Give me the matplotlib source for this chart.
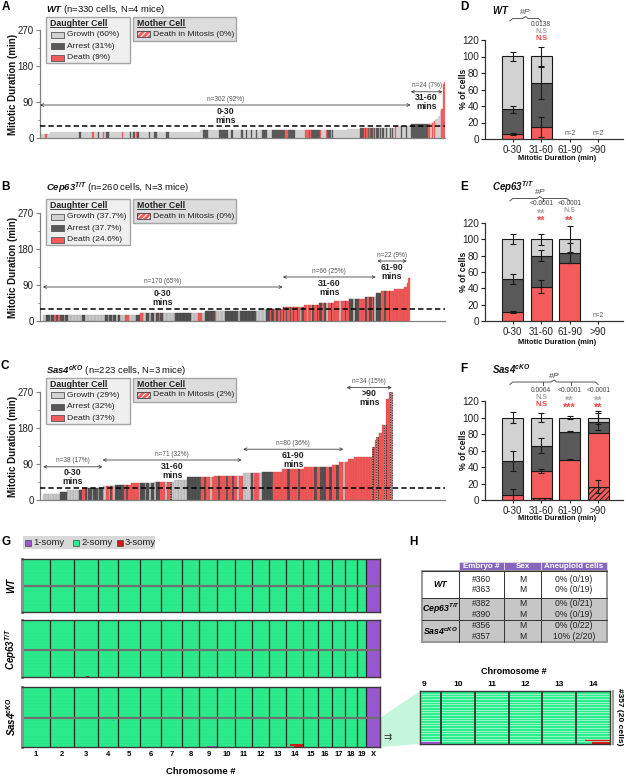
import numpy as np
import matplotlib
matplotlib.use('Agg')
import matplotlib.pyplot as plt
from matplotlib.patches import Rectangle, Polygon
from matplotlib.lines import Line2D
from matplotlib.colors import ListedColormap, BoundaryNorm
from matplotlib.ticker import MultipleLocator

nan = np.nan

# ---------------- waterfall data (A-C) ----------------
# (mitotic duration in min, run-length coded fates left to right)
# G = growth, A = arrest, D = death (daughter), M = death in mitosis (mother)
wt_runs = [
    (10, 'G4 D2 G2'),
    (15, 'G24 A1 G9 D2 G3 A1 G3 D1 G2 A2 G11 D1 G5 A1 G2 A1 G1 D1 A2 G8 A1 G3 A2 G8 A2 G25'),
    (20, 'G3 A4 G9 A7 G3 A1 G7 A1 G3 A1 G3 A1 G3 A1 G4 A4 G4 A11 D2 A6 G8 D3 A1 D1 A7 D1 G4 D1 A3 G1 A1 G11'),
    (24, 'G11'),
    (26, 'A3 D1 A1 D1 A1 D1 A2 D1 A1 G1 A2 G1 A1 G1 A1 G2 A1 G2 A1 G1 A1 G1'),
    (30, 'D1 G4 A1 G3 A1 G3'),
    (35, 'A14 D1'), (36, 'D1'), (37, 'G1'), (38, 'D1'), (40, 'G1'), (42, 'D1'),
    (45, 'G1'), (48, 'G1'), (52, 'G1'), (56, 'G1'),
    (68, 'G1'), (72, 'D1'), (135, 'D1'), (140, 'D1'),
]
cep_runs = [
    (15, 'G2 A3 G1 A2 D1 A2 D1 A3 G1 A2 G2 G8 A2 G14 A2 G1 A2 G1 A2 G1 A2 G3 D3 G5 A3'),
    (20, 'D2 G2 A2 G2 A2 G1 A2 D1 A2 G9 A11 G5 D3 G2'),
    (25, 'A7 D1 G6 A9 G2 A11 G2'),
    (30, 'G5 A3 D1 A2 D1 A2 D1 A1 D1'),
    (35, 'A1 D1 A1 D2 A1 D1 A1 D2 A1 D1 G1 D1 A1'),
    (40, 'D2 G1 D2 G1 A1 D2 A1 D1'),
    (45, 'A2 D1 A2 G1 D2 A1 D1'),
    (50, 'D4 G1 D3 A1 D2'),
    (55, 'A3 G1 A3 D4'),
    (60, 'A2 D1 A2 D1 A1 G1'),
    (70, 'A4'), (75, 'D2 A1 D2 A1 D3'), (80, 'D7'), (85, 'D2'),
    (95, 'D1'), (107, 'D1'),
]
sas_runs = [
    (15, 'G11'), (20, 'A4'), (25, 'G8 A2'), (30, 'D2 A1 G1 A2 G1 A3 G1 A2'),
    (35, 'G2 D2 G1 A1 D1 G1'), (37, 'A6 D1 A1 D2'), (42, 'D5 G1 A3 G1 A2 G1 A2'),
    (46, 'G1 A3 D3 G1 D2 M1 G2'), (50, 'G8'), (57, 'A9 D2 A1 D3 G1 D1'),
    (61, 'D3 A1 D4 A1 D3 A1 D2 G1 D3'), (67, 'G5 A1 G1 D3 G2'), (71, 'A7 D6'),
    (77, 'D3 A2 D5 A1 D3'), (82, 'D6 A2 D2 A4 D2 A2'), (87, 'D2 A2'),
    (96, 'D3 G1 D2'), (102, 'D4'), (107, 'D11'), (133, 'M1 D1'), (150, 'D1'),
    (157, 'M1 D1'), (167, 'D2'), (188, 'D1 M1'), (252, 'D2'), (270, 'D1 M1'),
]

wt_title = r'$\mathbf{WT}$ (n=330 cells, N=4 mice)'
cep_title = r'$\mathbf{Cep63^{T/T}}$ (n=260 cells, N=3 mice)'
sas_title = r'$\mathbf{Sas4^{cKO}}$ (n=223 cells, N=3 mice)'
wt_legend = ['Growth (60%)', 'Arrest (31%)', 'Death (9%)']
cep_legend = ['Growth (37.7%)', 'Arrest (37.7%)', 'Death (24.6%)']
sas_legend = ['Growth (29%)', 'Arrest (32%)', 'Death (37%)']
wt_mother = 'Death in Mitosis (0%)'
cep_mother = 'Death in Mitosis (0%)'
sas_mother = 'Death in Mitosis (2%)'

# duration groups: (first bar, last bar, arrow level in min, count label, group)
wt_groups = [(0, 302, 83, 'n=302 (92%)', '0-30'), (302, 328, 116, 'n=24 (7%)', '31-60')]
cep_groups = [(0, 170, 85, 'n=170 (65%)', '0-30'), (170, 236, 110, 'n=66 (25%)', '31-60'),
              (237, 258, 150, 'n=22 (9%)', '61-90')]
sas_groups = [(0, 38, 83, 'n=38 (17%)', '0-30'), (38, 127, 100, 'n=71 (32%)', '31-60'),
              (128, 192, 127, 'n=80 (36%)', '61-90'), (194, 223, 281, 'n=34 (15%)', '>90')]

# ---------------- stacked bars (D-F), % of cells ----------------
cats = ['0-30', '31-60', '61-90', '>90']
wt_mito = [0, 0, nan, nan]
wt_death = [6, 15, nan, nan]
wt_arrest = [30, 53, nan, nan]
wt_growth = [64, 32, nan, nan]
wt_err = [[0, 0, 0, 0], [1.5, 12, 0, 0], [4, 19, 0, 0], [5, 12, 0, 0]]
wt_p = ['', '0.0138', '', '']
wt_sig_g = ['', 'N.S', '', '']
wt_sig_d = ['', 'N.S', '', '']
wt_n = ['', '', 'n=2', 'n=2']

cep_mito = [0, 0, 0, nan]
cep_death = [11, 42, 71, nan]
cep_arrest = [40, 38, 12, nan]
cep_growth = [49, 20, 17, nan]
cep_err = [[0, 0, 0, 0], [1, 8, 0, 0], [6, 7, 12, 0], [6, 7, 16, 0]]
cep_p = ['', '<0.0001', '<0.0001', '']
cep_sig_g = ['', '**', 'N.S', '']
cep_sig_d = ['', '**', '**', '']
cep_n = ['', '', '', 'n=2']

sas_mito = [0, 2, 0, 16]
sas_death = [6, 33, 49, 65]
sas_arrest = [41, 31, 34, 14]
sas_growth = [53, 34, 17, 5]
sas_err = [[0, 0, 0, 8], [7, 2, 1, 0], [12, 9, 1, 10], [7, 5, 2, 8]]
sas_p = ['', '0.0064', '<0.0001', '<0.0001']
sas_sig_g = ['', 'N.S', '**', '**']
sas_sig_d = ['', 'N.S', '***', '**']
sas_n = ['', '', '', '']

# ---------------- karyotypes (G, H) ----------------
chrom_names = [str(i) for i in range(1, 20)] + ['X']
chrom_len = [193, 173, 163, 147, 152, 149, 143, 123, 126, 126, 119, 117, 117, 123, 105, 94, 93, 86, 61, 98]
embryo_ids = ['#360', '#363', '#382', '#390', '#356', '#357']
embryo_cells = [19, 19, 21, 19, 22, 20]
embryo_sex = ['M', 'M', 'M', 'M', 'M', 'M']
aneuploid = ['0% (0/19)', '0% (0/19)', '0% (0/21)', '0% (0/19)', '0% (0/22)', '10% (2/20)']
geno_labels = ['WT', r'Cep63$^{\mathbf{T/T}}$', r'Sas4$^{\mathbf{cKO}}$']
# (embryo, cell, chromosome, start fraction, end fraction, copy number)
cnv_events = [
    ('#390', 19, '3', 0.50, 0.62, 3),
    ('#390', 19, '9', 0.45, 0.55, 1),
    ('#357', 2, '4', 0.72, 0.80, 1),
    ('#357', 19, '14', 0.25, 1.00, 3),
    ('#357', 20, '14', 0.47, 1.00, 3),
    ('#357', 20, '9', 0.40, 1.00, 1),
]
detail_chroms = ['9', '10', '11', '12', '13', '14']

# ---------------- style ----------------
plt.rcParams['font.family'] = ['Liberation Sans', 'DejaVu Sans']
plt.rcParams['mathtext.fontset'] = 'custom'
plt.rcParams['mathtext.rm'] = 'Liberation Sans'
plt.rcParams['mathtext.it'] = 'Liberation Sans:italic'
plt.rcParams['mathtext.bf'] = 'Liberation Sans:bold:italic'
plt.rcParams['hatch.linewidth'] = 0.8

fate_col = {'G': '#D2D2D2', 'A': '#595959', 'D': '#F45C5C', 'M': '#F45C5C'}
edge_col = {'G': '#A3A3A3', 'A': '#3A3A3A', 'D': '#DA4A4A'}

W, H = 626, 776
fig = plt.figure(figsize=(W / 100, H / 100), dpi=100)
renderer = fig.canvas.get_renderer()


def fx(x):
    return x / W


def fy(y):
    return 1 - y / H


def px_rect(x0, y0, x1, y1):
    return [x0 / W, 1 - y1 / H, (x1 - x0) / W, (y1 - y0) / H]


def frect(x0, y0, x1, y1, **kw):
    r = Rectangle((fx(x0), fy(y1)), (x1 - x0) / W, (y1 - y0) / H, transform=fig.transFigure, **kw)
    fig.add_artist(r)
    return r


def underline(t):
    bb = t.get_window_extent(renderer=renderer)
    y = (bb.y0 + 1.2) / H
    fig.add_artist(Line2D([bb.x0 / W, bb.x1 / W], [y, y], transform=fig.transFigure, color='#222', lw=0.6))


def expand(runs):
    mins, fates = [], []
    for m, codes in runs:
        for tok in codes.split():
            k = int(tok[1:])
            fates += [tok[0]] * k
            mins += [m] * k
    return np.array(mins, float), np.array(fates)


def waterfall(box, runs, xlim, groups, edges):
    ax = fig.add_axes(px_rect(*box))
    mins, fates = expand(runs)
    x = np.arange(len(mins))
    for code in 'GAD':
        s = fates == code
        ec = edge_col[code] if edges else fate_col[code]
        ax.bar(x[s], mins[s], width=1, align='edge', color=fate_col[code], edgecolor=ec, linewidth=0.25)
    s = fates == 'M'
    if s.any():
        ax.bar(x[s], mins[s], width=1, align='edge', color=fate_col['M'], edgecolor='#1a1a1a',
               linewidth=0.6, linestyle=(0, (1, 1)))
    ax.axhline(30, color='black', lw=1.1, linestyle=(0, (3.5, 2)), zorder=3)
    ax.set_xlim(*xlim)
    ax.set_ylim(0, 270)
    ax.set_yticks([0, 90, 180, 270])
    ax.yaxis.set_minor_locator(MultipleLocator(45))
    ax.set_xticks([])
    for sp in ['top', 'right']:
        ax.spines[sp].set_visible(False)
    for sp in ['left', 'bottom']:
        ax.spines[sp].set_color('#808080')
        ax.spines[sp].set_linewidth(0.9)
    ax.tick_params(axis='y', labelsize=7, colors='#808080', labelcolor='#222', length=3, width=0.8, pad=1.5)
    ax.tick_params(axis='y', which='minor', length=1.6, colors='#808080')
    for x0, x1, y, nlab, grp in groups:
        ax.annotate('', xy=(x1, y), xytext=(x0, y), annotation_clip=False,
                    arrowprops=dict(arrowstyle='<->', color='#444', lw=0.6, shrinkA=0, shrinkB=0,
                                    mutation_scale=5))
        mid = (x0 + x1) / 2
        ax.text(mid, y + 6, nlab, fontsize=4.7, color='#555', ha='center', va='bottom', clip_on=False)
        ax.text(mid, y - 4, grp + '\nmins', fontsize=6.3, weight='bold', color='#222', ha='center',
                va='top', linespacing=1.0, clip_on=False)
    return ax


def cell_legend(ytop, labels, mother_label):
    frect(46, ytop, 130, ytop + 46, fc='#EFEFEF', ec='#A5A5A5', lw=1)
    t = fig.text(fx(50), fy(ytop + 6.5), 'Daughter Cell', fontsize=6.3, weight='bold', va='center', color='#222')
    underline(t)
    for i, (lab, code) in enumerate(zip(labels, 'GAD')):
        yc = ytop + 17.5 + i * 11.5
        frect(51, yc - 3, 64, yc + 3, fc=fate_col[code], ec='#555', lw=0.6)
        fig.text(fx(67), fy(yc), lab, fontsize=6.1, va='center', color='#222')
    frect(133, ytop, 236, ytop + 24, fc='#DCDCDC', ec='#A5A5A5', lw=1)
    t = fig.text(fx(137), fy(ytop + 6.5), 'Mother Cell', fontsize=6.3, weight='bold', va='center', color='#222')
    underline(t)
    yc = ytop + 17
    frect(137, yc - 3, 150, yc + 3, fc=fate_col['D'], ec='white', lw=0, hatch='//////')
    frect(137, yc - 3, 150, yc + 3, fill=False, ec='#444', lw=0.6)
    fig.text(fx(153), fy(yc), mother_label, fontsize=6.1, va='center', color='#222')


def stacked(box, mito, death, arrest, growth, errs, pvals, sig_g, sig_d, nlabs, base, yb):
    ax = fig.add_axes(px_rect(*box))
    x = np.arange(len(cats))
    segs = [np.array(v, float) for v in (mito, death, arrest, growth)]
    ok = ~np.isnan(segs[3])
    bottom = np.zeros(len(cats))
    tops = []
    cols = [fate_col['D'], fate_col['D'], fate_col['A'], fate_col['G']]
    wbar = 0.74
    for k, seg in enumerate(segs):
        h = np.nan_to_num(seg)
        if k == 0:
            sel = ok & (h > 0)
            ax.bar(x[sel], h[sel], wbar, bottom=bottom[sel], color=cols[0], edgecolor='#3a2020',
                   hatch='//////', lw=0, zorder=2)
            ax.bar(x[sel], h[sel], wbar, bottom=bottom[sel], fill=False, edgecolor='#1a1a1a', lw=0.8, zorder=2)
        else:
            ax.bar(x[ok], h[ok], wbar, bottom=bottom[ok], color=cols[k], edgecolor='#1a1a1a', lw=0.8, zorder=2)
        bottom = bottom + h
        tops.append(bottom.copy())
    for top, err in zip(tops, errs):
        e = np.array(err, float)
        s = ok & (e > 0)
        ax.errorbar(x[s], top[s], yerr=e[s], fmt='none', ecolor='#1a1a1a', elinewidth=0.8,
                    capsize=2.5, capthick=0.8, zorder=3)
    targets = []
    for i in range(len(cats)):
        if pvals[i]:
            targets.append(i)
        ax.text(i, base, pvals[i], fontsize=4.8, color='#444', ha='center', va='center', clip_on=False)
        for txt, yy, col in ((sig_g[i], base - 9, '#A8A8A8'), (sig_d[i], base - 17, '#F04545')):
            star = '*' in txt
            ax.text(i, yy - (4 if star else 0), txt, fontsize=7.8 if star else 5.2, color=col,
                    weight='bold', ha='center', va='center', clip_on=False)
        ax.text(i, 7, nlabs[i], fontsize=4.8, color='#555', ha='center', va='center')
    # bracket over the compared groups
    xs, xe = -0.1, max(targets)
    xm = (xs + xe) / 2
    bx = [xs, xs + 0.1, xm - 0.1, xm, xm + 0.1, xe - 0.1, xe]
    by = [yb - 3, yb, yb, yb + 2.5, yb, yb, yb - 3]
    ax.plot(bx, by, color='#555', lw=0.7, clip_on=False)
    for t in targets[:-1]:
        ax.plot([t + 0.05, t + 0.05], [yb, yb - 3], color='#555', lw=0.7, clip_on=False)
    ax.text(xm, yb + 8, r'#$\it{P}$', fontsize=6, color='#444', ha='center', va='center', clip_on=False)
    ax.set_xlim(-0.97, 3.87)
    ax.set_ylim(0, 120)
    ax.set_yticks(np.arange(0, 121, 20))
    ax.set_xticks(x, cats)
    for sp in ['top', 'right']:
        ax.spines[sp].set_visible(False)
    for sp in ['left', 'bottom']:
        ax.spines[sp].set_linewidth(0.9)
        ax.spines[sp].set_color('#333')
    ax.tick_params(axis='y', labelsize=7.2, length=3, width=0.8, pad=1.2, colors='#222')
    ax.tick_params(axis='x', labelsize=7, length=2.5, width=0.8, pad=2, colors='#222')
    return ax


# ---------------- panels A-C ----------------
waterfall((40, 30, 445, 138.3), wt_runs, (0, 330), wt_groups, False)
waterfall((40, 213, 445, 321), cep_runs, (-2, 285), cep_groups, True)
waterfall((40, 392, 445, 500), sas_runs, (-2, 257), sas_groups, True)
cell_legend(17, wt_legend, wt_mother)
cell_legend(199, cep_legend, cep_mother)
cell_legend(378, sas_legend, sas_mother)
for yc, title in ((9, wt_title), (188, cep_title), (371, sas_title)):
    fig.text(fx(46), fy(yc), title, fontsize=6.8, va='center', color='#111')
for yc in (84, 267, 446):
    fig.text(fx(13), fy(yc), 'Mitotic Duration (min)', fontsize=7, weight='bold', rotation=90,
             ha='center', va='center', color='#111')

# ---------------- panels D-F ----------------
stacked((485, 40, 623, 139), wt_mito, wt_death, wt_arrest, wt_growth, wt_err,
        wt_p, wt_sig_g, wt_sig_d, wt_n, 139, 146)
stacked((485, 223, 623, 321), cep_mito, cep_death, cep_arrest, cep_growth, cep_err,
        cep_p, cep_sig_g, cep_sig_d, cep_n, 144, 150)
stacked((485, 401, 623, 500), sas_mito, sas_death, sas_arrest, sas_growth, sas_err,
        sas_p, sas_sig_g, sas_sig_d, sas_n, 133, 143)
for yc, lab in ((10, r'$\mathbf{WT}$'), (187, r'$\mathbf{Cep63^{T/T}}$'), (369, r'$\mathbf{Sas4^{cKO}}$')):
    fig.text(fx(492), fy(yc), lab, fontsize=7, va='center', color='#111')
for yc, ylab in ((89, 159), (272, 342), (450, 518)):
    fig.text(fx(464), fy(yc), '% of cells', fontsize=6.2, weight='bold', rotation=90,
             ha='center', va='center', color='#111')
    fig.text(fx(557), fy(ylab), 'Mitotic Duration (min)', fontsize=5.4, weight='bold',
             ha='center', va='center', color='#111')

# panel letters
for lab, x, y in (('A', 6, 7), ('B', 5, 187), ('C', 5, 366), ('D', 464, 7), ('E', 464, 187),
                  ('F', 464, 369), ('G', 6, 542), ('H', 413, 542)):
    fig.text(fx(x), fy(y), lab, fontsize=8.5, weight='bold', ha='center', va='center')

# ---------------- panel G ----------------
NB = 40
cn_cmap = ListedColormap(['#A251D6', '#2CEE8E', '#D81414'])
cn_norm = BoundaryNorm([0.5, 1.5, 2.5, 3.5], 3)


def copy_matrix(emb, chroms):
    n = embryo_cells[embryo_ids.index(emb)]
    mat = np.full((n, len(chroms) * NB), 2.0)
    centers = (np.arange(NB) + 0.5) / NB
    for j, c in enumerate(chroms):
        if c == 'X':
            mat[:, j * NB:(j + 1) * NB] = 1
    for e, cell, c, a, b, cn in cnv_events:
        if e == emb and c in chroms:
            j = chroms.index(c)
            row = mat[cell - 1, j * NB:(j + 1) * NB]
            row[(centers >= a) & (centers <= b)] = cn
    return mat


def chrom_edges(widths):
    edges = [0.0]
    for w in widths:
        edges += list(edges[-1] + np.linspace(0, w, NB + 1)[1:])
    return np.array(edges)


gx = chrom_edges(chrom_len)
bounds = np.concatenate([[0], np.cumsum(chrom_len)])
blocks = [(559, 612), (620, 677), (687, 747)]
for g, (y0, y1) in enumerate(blocks):
    ax = fig.add_axes(px_rect(22, y0, 380, y1))
    mat = np.vstack([copy_matrix(embryo_ids[2 * g], chrom_names), copy_matrix(embryo_ids[2 * g + 1], chrom_names)])
    ny = mat.shape[0]
    ax.pcolormesh(gx, np.arange(ny + 1), mat, cmap=cn_cmap, norm=cn_norm)
    ax.hlines(np.arange(1, ny), 0, bounds[-1], color='#1FB56B', lw=0.15, alpha=0.5)
    ax.vlines(bounds[1:-1], 0, ny, color='#262626', lw=0.9)
    ax.axhline(embryo_cells[2 * g], color='#707070', lw=1.6)
    ax.set_xlim(0, bounds[-1])
    ax.set_ylim(ny, 0)
    ax.set_yticks([])
    for sp in ax.spines.values():
        sp.set_color('#3a3a3a')
        sp.set_linewidth(1)
    ax.spines['left'].set_color('#8C8C8C')
    ax.spines['left'].set_linewidth(2.2)
    if g == 2:
        ax.set_xticks((bounds[:-1] + bounds[1:]) / 2, chrom_names)
        ax.tick_params(axis='x', length=0, pad=3, labelsize=5.5)
        for tl in ax.get_xticklabels():
            tl.set_fontweight('bold')
    else:
        ax.set_xticks([])
    fig.text(fx(11), fy((y0 + y1) / 2), geno_labels[g], fontsize=7, weight='bold', style='italic',
             rotation=90, ha='center', va='center')
fig.text(fx(201), fy(771), 'Chromosome #', fontsize=6.8, weight='bold', ha='center', va='center')

# G legend
frect(23, 536, 155, 549, fc='#D8D8D8', ec='none')
for col, x, lab in ((cn_cmap(0), 25, '1-somy'), (cn_cmap(1), 73, '2-somy'), (cn_cmap(2), 117, '3-somy')):
    frect(x, 539.5, x + 6, 545.5, fc=col, ec='#444', lw=0.5)
    fig.text(fx(x + 8), fy(542.5), lab, fontsize=6.8, va='center', color='#222')

# ---------------- panel H: table ----------------
tax = fig.add_axes(px_rect(421, 560, 609, 644))
tax.set_xlim(421, 609)
tax.set_ylim(644, 560)
tax.axis('off')
cols_x = [422, 459, 504, 541, 607]
rows_y = [562, 571, 598, 620, 642]
for c, head in enumerate(['Embryo #', 'Sex', 'Aneuploid cells'], start=1):
    tax.add_patch(Rectangle((cols_x[c], rows_y[0]), cols_x[c + 1] - cols_x[c], rows_y[1] - rows_y[0],
                            fc='#8565BE', ec='#E0E0E0', lw=0.6))
    tax.text((cols_x[c] + cols_x[c + 1]) / 2, (rows_y[0] + rows_y[1]) / 2 + 0.3, head, fontsize=5.8,
             weight='bold', color='white', ha='center', va='center')
for r in range(3):
    ya, yb = rows_y[r + 1], rows_y[r + 2]
    tax.add_patch(Rectangle((cols_x[0], ya), cols_x[-1] - cols_x[0], yb - ya,
                            fc='white' if r == 0 else '#C6C6C6', ec='none'))
    ym = (ya + yb) / 2
    tax.text((cols_x[0] + cols_x[1]) / 2, ym, geno_labels[r], fontsize=6.3, weight='bold', style='italic',
             ha='center', va='center')
    pair = slice(2 * r, 2 * r + 2)
    for c, vals in ((1, embryo_ids[pair]), (2, embryo_sex[pair]), (3, aneuploid[pair])):
        tax.text((cols_x[c] + cols_x[c + 1]) / 2, ym, '\n'.join(vals), fontsize=6.2, color='#222',
                 ha='center', va='center', linespacing=1.15)
for xv in cols_x[1:-1]:
    tax.plot([xv, xv], [rows_y[1], rows_y[-1]], color='#333', lw=0.7)
for yv in rows_y[1:-1]:
    tax.plot([cols_x[0], cols_x[-1]], [yv, yv], color='#333', lw=0.7)
tax.add_patch(Rectangle((cols_x[0], rows_y[1]), cols_x[-1] - cols_x[0], rows_y[-1] - rows_y[1],
                        fill=False, ec='#909090', lw=1.3))

# ---------------- panel H: #357 detail ----------------
fig.add_artist(Polygon([(fx(380), fy(718)), (fx(420), fy(691)), (fx(420), fy(744)), (fx(380), fy(747))],
                       closed=True, transform=fig.transFigure, fc='#C4F6DC', ec='none', zorder=0))
dax = fig.add_axes(px_rect(420, 691, 610, 744))
dmat = copy_matrix('#357', detail_chroms)
nd = dmat.shape[0]
dax.pcolormesh(chrom_edges([1] * len(detail_chroms)), np.arange(nd + 1), dmat, cmap=cn_cmap, norm=cn_norm)
dax.hlines(np.arange(1, nd), 0, len(detail_chroms), color='#A8F7CF', lw=0.6)
dax.vlines(np.arange(1, len(detail_chroms)), 0, nd, color='#262626', lw=1.2)
dax.set_xlim(0.38, len(detail_chroms))
dax.set_ylim(nd, 0)
dax.set_yticks([])
dax.xaxis.tick_top()
dax.set_xticks(np.arange(len(detail_chroms)) + 0.5, detail_chroms)
dax.tick_params(axis='x', length=0, pad=2, labelsize=6)
for tl in dax.get_xticklabels():
    tl.set_fontweight('bold')
for sp in dax.spines.values():
    sp.set_color('#3a3a3a')
    sp.set_linewidth(1)
fig.text(fx(514), fy(671), 'Chromosome #', fontsize=6.5, weight='bold', ha='center', va='center')
fig.add_artist(Line2D([fx(613), fx(613)], [fy(691), fy(744)], transform=fig.transFigure, color='#A0A0A0', lw=1.5))
fig.text(fx(620), fy(717), '#357 (20 cells)', fontsize=6, weight='bold', rotation=270,
         ha='center', va='center')
fig.text(fx(387), fy(737), '\u21c9', fontsize=7, family='DejaVu Sans', color='#333', ha='center', va='center')

fig.savefig('out.png', dpi=100)
